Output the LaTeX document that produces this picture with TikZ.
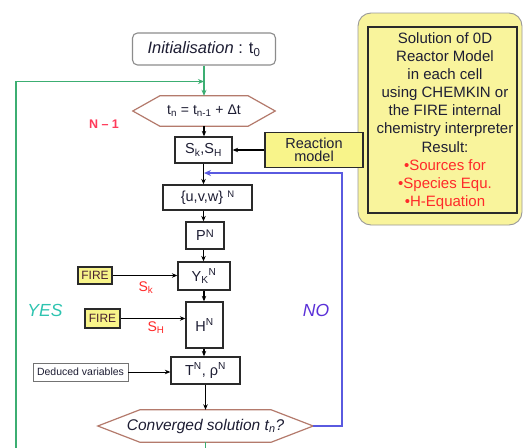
\documentclass[tikz,border=0pt]{standalone}
\usepackage{fontspec}
\setmainfont{Liberation Sans}
\usetikzlibrary{arrows.meta,calc}
\definecolor{txt}{HTML}{1E1E34}
\definecolor{boxc}{HTML}{2A2A2A}
\definecolor{hexc}{HTML}{B47A6C}
\definecolor{greenl}{HTML}{3CAE72}
\definecolor{bluel}{HTML}{5A5AE0}
\definecolor{ybig}{HTML}{F9F49C}
\definecolor{ybox}{HTML}{F8F48A}
\definecolor{redt}{HTML}{FF2A2A}
\definecolor{redn}{HTML}{FF3A5A}
\definecolor{yesc}{HTML}{2EC4B0}
\definecolor{noc}{HTML}{5A30D8}
\definecolor{firec}{HTML}{4A2030}
\tikzset{
  box/.style={draw=boxc, line width=1.3pt, inner sep=0pt, text=txt,
    font=\fontsize{14.5}{16}\selectfont},
  hexn/.style={inner sep=0pt, text=txt},
  hexl/.style={draw=hexc, line width=1.2pt},
  arr/.style={draw=black, line width=1.2pt, -{Stealth[length=5.5pt,width=4.5pt]}},
  firebox/.style={draw=boxc, line width=1.8pt, fill=ybox, inner sep=0pt,
    text=firec, font=\fontsize{12}{12}\selectfont},
  redlab/.style={text=redt, font=\fontsize{14}{14}\selectfont},
  gline/.style={draw=greenl, line width=1.3pt},
  bline/.style={draw=bluel, line width=1.3pt},
}
\begin{document}
\begin{tikzpicture}[x=1pt,y=-1pt]
\clip (0,0) rectangle (524,447);
\fill[white] (0,0) rectangle (524,447);

% big solution box
\node[draw=gray!80, line width=0.9pt, fill=ybig, rounded corners=13pt,
  minimum width=164pt, minimum height=212pt, inner sep=0pt] (big) at (440,119) {};
\node[draw=boxc, line width=1.4pt, minimum width=149pt, minimum height=186pt,
  inner sep=0pt] (inner) at (442.5,120) {};
\node[align=center, inner sep=0pt, text=txt, font=\fontsize{15}{18.1}\selectfont]
  (soltext) at (445,121) {Solution of 0D\\Reactor Model\\in each cell\\using CHEMKIN or\\the FIRE internal\\chemistry interpreter\\Result:\\
  \textcolor{redt}{\textbullet Sources for}\\\textcolor{redt}{\textbullet Species Equ.}\\\textcolor{redt}{\textbullet H-Equation}};

% main column
\node[draw=gray!90, line width=1.1pt, rounded corners=5pt, minimum width=143pt,
  minimum height=32pt, inner sep=0pt, text=txt, font=\fontsize{16.5}{17}\selectfont]
  (init) at (204,49) {\textit{Initialisation} : t\textsubscript{0}};

\node[hexn, minimum width=142pt, minimum height=30pt, font=\fontsize{14}{15}\selectfont]
  (tn) at (204,111) {t\textsubscript{n} = t\textsubscript{n-1} + Δt};
\draw[hexl] (tn.west) -- ([xshift=27pt]tn.north west) -- ([xshift=-27pt]tn.north east)
  -- (tn.east) -- ([xshift=-27pt]tn.south east) -- ([xshift=27pt]tn.south west) -- cycle;

\node[box, minimum width=57pt, minimum height=26pt] (sk) at (203.5,150)
  {S\textsubscript{k},S\textsubscript{H}};
\node[box, minimum width=89pt, minimum height=25pt] (uvw) at (207.5,197.5)
  {\{u,v,w\} \raisebox{0.55ex}{\fontsize{9.5}{10}\selectfont N}};
\node[box, minimum width=38pt, minimum height=27pt] (P) at (205,235.5)
  {P\raisebox{0.35ex}{\fontsize{11}{11}\selectfont N}};
\node[box, minimum width=52pt, minimum height=28pt] (Y) at (204,276)
  {Y\textsubscript{K}\textsuperscript{N}};
\node[box, minimum width=37pt, minimum height=46pt] (H) at (204.5,325)
  {H\textsuperscript{N}};
\node[box, minimum width=69pt, minimum height=27pt] (T) at (205.5,370.5)
  {T\textsuperscript{N}, ρ\textsuperscript{N}};

\node[hexn, minimum width=215pt, minimum height=32pt, font=\fontsize{15.5}{16}\selectfont]
  (conv) at (205.5,426) {\textit{Converged solution t\textsubscript{n}?}};
\draw[hexl] (conv.west) -- ([xshift=42pt]conv.north west) -- ([xshift=-42pt]conv.north east)
  -- (conv.east) -- ([xshift=-42pt]conv.south east) -- ([xshift=42pt]conv.south west) -- cycle;

% side inputs
\node[box, fill=ybox, minimum width=98pt, minimum height=35pt, align=center,
  font=\fontsize{14.5}{13}\selectfont] (RM) at (314,150) {Reaction\\model};
\node[firebox, minimum width=34pt, minimum height=17pt] (F1) at (95,275.5) {FIRE};
\node[firebox, minimum width=35pt, minimum height=19pt] (F2) at (102.5,318.5) {FIRE};
\node[draw=gray!90!black, line width=0.9pt, minimum width=95pt, minimum height=18pt,
  inner sep=0pt, text=txt, font=\fontsize{10.5}{11}\selectfont] (DV) at (80.5,372)
  {Deduced variables};

% labels
\node[redlab] (lsk) at (146,288) {S\textsubscript{k}};
\node[redlab] (lsh) at (156,328) {S\textsubscript{H}};
\node[text=redn, font=\bfseries\fontsize{12.5}{13}\selectfont] (nm1) at (104,124) {N – 1};
\node[text=yesc, font=\itshape\fontsize{17.5}{18}\selectfont] (yes) at (45,310) {YES};
\node[text=noc, font=\itshape\fontsize{17.5}{18}\selectfont] (no) at (316,310) {NO};

% main arrows
\draw[arr] (tn.south) -- (tn.south |- sk.north);
\draw[arr] (sk.south) -- (sk.south |- uvw.north);
\draw[arr] (sk.south |- uvw.south) -- (sk.south |- P.north);
\draw[arr] (sk.south |- P.south) -- (sk.south |- Y.north);
\draw[arr] (Y.south) -- (Y.south |- H.north);
\draw[arr] (Y.south |- H.south) -- (Y.south |- T.north);
\draw[arr, line width=1.8pt] (T.south) -- (T.south |- conv.north);
\draw[arr] (RM.west) -- (RM.west -| sk.east);
\draw[arr, line width=1pt] (F1.east) -- (F1.east -| Y.west);
\draw[arr, line width=1pt] (F2.east) -- (F2.east -| H.west);
\draw[arr, line width=1pt] (DV.east) -- (DV.east -| T.west);

% green loop (YES)
\coordinate (gb) at (205.5,470);
\coordinate (gbl) at (16,470);
\coordinate (gtl) at (16,81.5);
\coordinate (gm) at (204,81.5);
\draw[gline, -{Stealth[length=6pt,width=5pt]}] (conv.south) -- (gb) -- (gbl) -- (gtl) -- (gm);
\draw[gline, -{Stealth[length=6pt,width=5pt]}] (init.south) -- (tn.north);

% blue loop (NO)
\coordinate (b1) at (342,426);
\coordinate (b2) at (342,173);
\coordinate (bm) at (204,173);
\draw[bline, -{Stealth[length=7pt,width=6pt]}] (conv.east) -- (b1) -- (b2) -- (bm);
\end{tikzpicture}
\end{document}
